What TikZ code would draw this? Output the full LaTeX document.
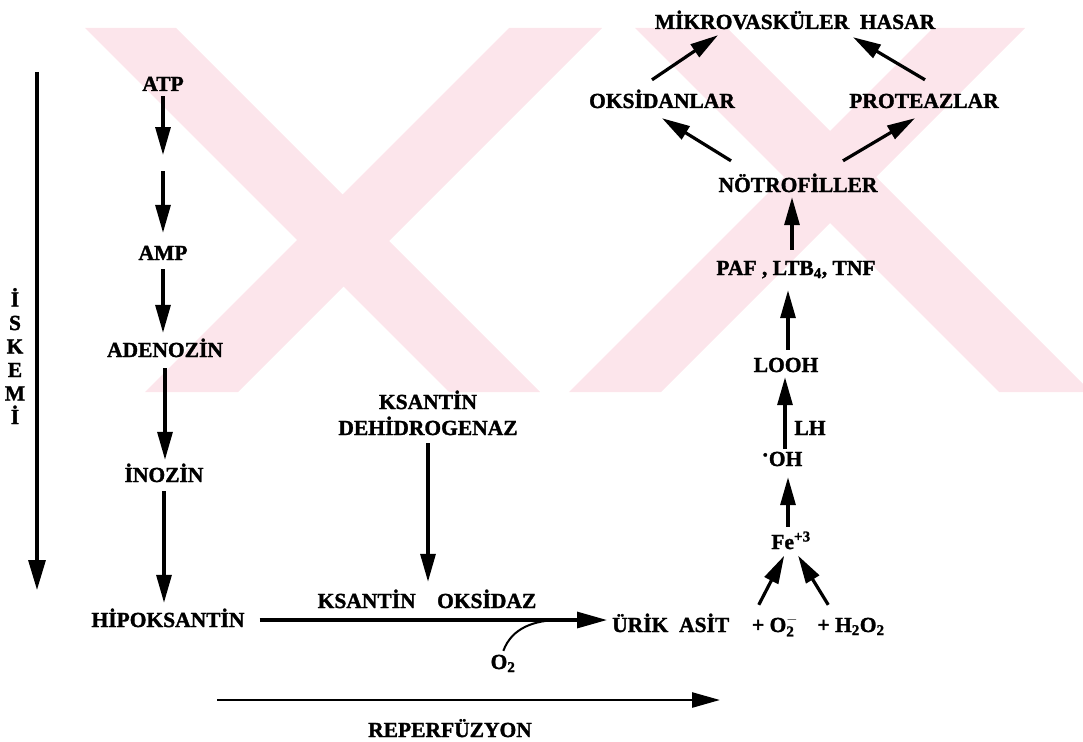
\documentclass[tikz,border=0pt]{standalone}
\usepackage{fontspec}
\setmainfont{Liberation Serif}[BoldFeatures={FakeBold=1.5}]
\usetikzlibrary{arrows.meta, positioning}
\definecolor{WaterPink}{RGB}{252,229,235}

\begin{document}
\begin{tikzpicture}[
    x=1pt, y=-1pt,
    every node/.style={font=\bfseries\fontsize{21.5}{25}\selectfont},
    lbl/.style={text height=14pt, text depth=0pt, inner sep=3pt},
    arr/.style={-{Triangle[length=28pt, width=15pt]}, line width=3.2pt,
                shorten <=6pt, shorten >=7pt},
    band/.style={fill=WaterPink, draw=none}
]
\useasboundingbox (0,0) rectangle (1083,741);

% watermark
\begin{scope}
  \clip (85,28) rectangle (1083,392);
  \fill[band] (85,28) -- (176,28) -- (540,392) -- (449,392) -- cycle;
  \fill[band] (509,28) -- (602,28) -- (238,392) -- (145,392) -- cycle;
  \fill[band] (635,28) -- (727,28) -- (1091,392) -- (999,392) -- cycle;
  \fill[band] (933,28) -- (1025,28) -- (661,392) -- (569,392) -- cycle;
\end{scope}

% iskemi
\foreach \ch [count=\i] in {İ,S,K,E,M,İ}
  \node[lbl] (isk\i) at (15,276+23.5*\i) {\ch};
\coordinate (iskbeg) at (37,72);
\coordinate (iskend) at (37,590);
\draw[arr, -{Triangle[length=30pt, width=17pt]}, shorten <=0pt, shorten >=0pt]
  (iskbeg) -- (iskend);

% purine chain
\node[lbl] (atp) at (163,84) {ATP};
\coordinate (atpmid) at (163,163);
\node[lbl] (amp) at (163,253) {AMP};
\node[lbl] (adenozin) at (165,350) {ADENOZİN};
\node[lbl] (inozin) at (164,475) {İNOZİN};
\node[lbl] (hipo) at (168,620) {HİPOKSANTİN};
\draw[arr, shorten <=2pt, shorten >=8pt] (atp) -- (atpmid);
\draw[arr, shorten <=8pt, shorten >=10pt] (atpmid) -- (amp);
\draw[arr] (amp) -- (amp |- adenozin.north);
\draw[arr, shorten <=8pt, shorten >=5pt] (adenozin) -- (adenozin |- inozin.north);
\draw[arr] (inozin) -- (inozin |- hipo.north);

% xanthine oxidase step
\node[lbl] (xdh1) at (428,402) {KSANTİN};
\node[lbl] (xdh2) at (428,428) {DEHİDROGENAZ};
\node[lbl] (xo) at (427,601) {KSANTİN\quad OKSİDAZ};
\node[lbl, anchor=west] (urik) at (609,625) {ÜRİK~~ASİT};
\node[lbl] (superox) at (775,625) {+ O$_{\mathbf{2}}^{\mathbf{-}}$};
\node[lbl] (perox) at (851,625) {+ H\textsubscript{2}O\textsubscript{2}};
\node[lbl] (oxy) at (503,662) {O\textsubscript{2}};
\coordinate (oxyjoin) at (560,620);
\draw[arr, shorten <=5pt, shorten >=9pt] (xdh2) -- (xdh2 |- xo.north);
\draw[arr, -{Triangle[length=30pt, width=16pt]}, shorten <=12pt, shorten >=2pt]
  (hipo.east) -- (hipo.east -| urik.west);
\draw[line width=2pt, shorten <=1pt] (oxy.north) to[out=70, in=180] (oxyjoin);

% lipid peroxidation
\node[lbl] (fe) at (791,542) {Fe\textsuperscript{+3}};
\node[lbl] (oh) at (782,459) {\raisebox{4pt}{·}OH};
\node[lbl] (looh) at (786,365) {LOOH};
\node[lbl] (lh) at (810,428) {LH};
\node[lbl] (paf) at (796,268) {PAF , LTB\textsubscript{4}, TNF};
\node[lbl] (notrofil) at (798,185) {NÖTROFİLLER};
\draw[arr, shorten <=0pt, shorten >=4pt]
  ([xshift=10pt, yshift=10pt]superox.north west) -- ([xshift=-5pt]fe.south);
\draw[arr, shorten <=0pt, shorten >=4pt]
  ([xshift=14pt, yshift=10pt]perox.north west) -- ([xshift=5pt]fe.south);
\draw[arr, shorten <=5pt, shorten >=8pt]
  ([xshift=-3pt]fe.north) -- ([xshift=-3pt]fe.north |- oh.south);
\draw[arr, shorten <=0pt, shorten >=2pt]
  ([xshift=3pt]oh.north) -- ([xshift=3pt]oh.north |- looh.south);
\draw[arr, shorten <=5pt, shorten >=12pt]
  ([xshift=2pt]looh.north) -- ([xshift=2pt]looh.north |- paf.south);
\draw[arr, shorten <=8pt, shorten >=2pt]
  ([xshift=-4pt]paf.north) -- ([xshift=-4pt]paf.north |- notrofil.south);

% damage
\node[lbl] (oksidan) at (662,101) {OKSİDANLAR};
\node[lbl] (proteaz) at (924,101) {PROTEAZLAR};
\node[lbl] (mikro) at (795,22) {MİKROVASKÜLER~~HASAR};
\draw[arr, shorten <=0pt, shorten >=0pt]
  ([xshift=-67pt, yshift=14pt]notrofil.north) -- ([yshift=-7pt]oksidan.south);
\draw[arr, shorten <=0pt, shorten >=0pt]
  ([xshift=45pt, yshift=14pt]notrofil.north) -- ([xshift=-9pt, yshift=-7pt]proteaz.south);
\draw[arr, shorten <=0pt, shorten >=0pt]
  ([xshift=-10pt, yshift=11pt]oksidan.north) -- ([xshift=-77pt, yshift=-3pt]mikro.south);
\draw[arr, shorten <=0pt, shorten >=0pt]
  ([xshift=1pt, yshift=11pt]proteaz.north) -- ([xshift=58pt, yshift=-5pt]mikro.south);

% reperfusion
\node[lbl] (reperf) at (450,730) {REPERFÜZYON};
\coordinate (repbeg) at (217,700);
\coordinate (repend) at (720,700);
\draw[arr, line width=2.6pt, shorten <=0pt, shorten >=0pt] (repbeg) -- (repend);
\end{tikzpicture}
\end{document}
